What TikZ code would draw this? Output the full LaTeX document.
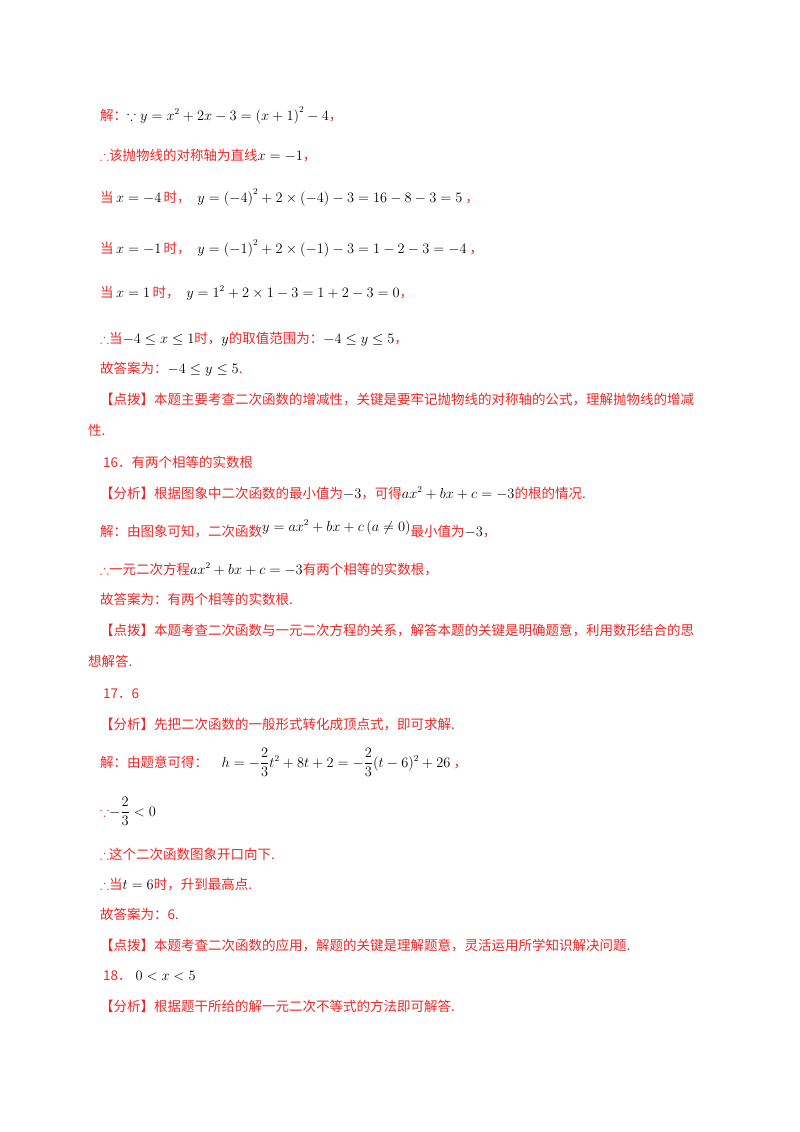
\documentclass[tikz,border=0pt]{standalone}
\usepackage{amsmath,amssymb}
\usepackage{fontspec}
\setmainfont{Liberation Serif}
\newfontfamily\cjk{Noto Sans CJK SC}
\definecolor{rd}{RGB}{235,40,40}
\newcommand{\Rt}[1]{{\color{rd}\cjk #1}}
\begin{document}
\begin{tikzpicture}[x=1pt,y=-1pt,
  ln/.style={anchor=base west,inner sep=0pt,font=\fontsize{13.5}{16}\selectfont}]
\useasboundingbox[fill=white] (0,0) rectangle (800,1132);
\node[ln] (l1) at (100,120) {\Rt{解：}$\because y=x^2+2x-3=\left(x+1\right)^2-4$\Rt{，}};
\node[ln] (l2) at (100,160) {\Rt{$\therefore$该抛物线的对称轴为直线}$x=-1$\Rt{，}};
\node[ln] (l3) at (100,202) {\Rt{当}$\,x=-4\,$\Rt{时，}\ \ $y=\left(-4\right)^2+2\times\left(-4\right)-3=16-8-3=5$\Rt{\ ，}};
\node[ln] (l4) at (100,253) {\Rt{当}$\,x=-1\,$\Rt{时，}\ \ $y=\left(-1\right)^2+2\times\left(-1\right)-3=1-2-3=-4$\Rt{\ ，}};
\node[ln] (l5) at (100,297) {\Rt{当}$\,x=1\,$\Rt{时，}\ \ $y=1^2+2\times1-3=1+2-3=0$\Rt{，}};
\node[ln] (l6) at (100,343) {\Rt{$\therefore$当}$-4\le x\le1$\Rt{时，}$y$\Rt{的取值范围为：}$-4\le y\le5$\Rt{，}};
\node[ln] (l7) at (100,373) {\Rt{故答案为：}$-4\le y\le5$\Rt{.}};
\node[ln] (l8) at (100,404) {\Rt{【点拨】本题主要考查二次函数的增减性，关键是要牢记抛物线的对称轴的公式，理解抛物线的增减}};
\node[ln] (l9) at (88,435) {\Rt{性.}};
\node[ln] (l10) at (103,467) {\Rt{16．有两个相等的实数根}};
\node[ln] (l11) at (100,498) {\Rt{【分析】根据图象中二次函数的最小值为}$-3$\Rt{，可得}$ax^2+bx+c=-3$\Rt{的根的情况.}};
\node[ln] (l12) at (100,536) {\Rt{解：由图象可知，二次函数}\raisebox{5pt}{$y=ax^2+bx+c\left(a\ne0\right)$}\Rt{最小值为}$-3$\Rt{，}};
\node[ln] (l13) at (100,574) {\Rt{$\therefore$一元二次方程}$ax^2+bx+c=-3$\Rt{有两个相等的实数根，}};
\node[ln] (l14) at (100,604) {\Rt{故答案为：有两个相等的实数根.}};
\node[ln] (l15) at (100,635) {\Rt{【点拨】本题考查二次函数与一元二次方程的关系，解答本题的关键是明确题意，利用数形结合的思}};
\node[ln] (l16) at (88,666) {\Rt{想解答.}};
\node[ln] (l17) at (103,698) {\Rt{17．6}};
\node[ln] (l18) at (100,729) {\Rt{【分析】先把二次函数的一般形式转化成顶点式，即可求解.}};
\node[ln] (l19) at (100,767) {\Rt{解：由题意可得：}\quad$h=-\dfrac{2}{3}t^2+8t+2=-\dfrac{2}{3}(t-6)^2+26$\Rt{\ ，}};
\node[ln] (l20) at (100,816) {\Rt{$\because$}$-\dfrac{2}{3}<0$};
\node[ln] (l21) at (100,859) {\Rt{$\therefore$这个二次函数图象开口向下.}};
\node[ln] (l22) at (100,889) {\Rt{$\therefore$当}$t=6$\Rt{时，升到最高点.}};
\node[ln] (l23) at (100,919) {\Rt{故答案为：6.}};
\node[ln] (l24) at (100,950) {\Rt{【点拨】本题考查二次函数的应用，解题的关键是理解题意，灵活运用所学知识解决问题.}};
\node[ln] (l25) at (103,980) {\Rt{18．}$\;0<x<5$};
\node[ln] (l26) at (100,1011) {\Rt{【分析】根据题干所给的解一元二次不等式的方法即可解答.}};
\end{tikzpicture}
\end{document}
